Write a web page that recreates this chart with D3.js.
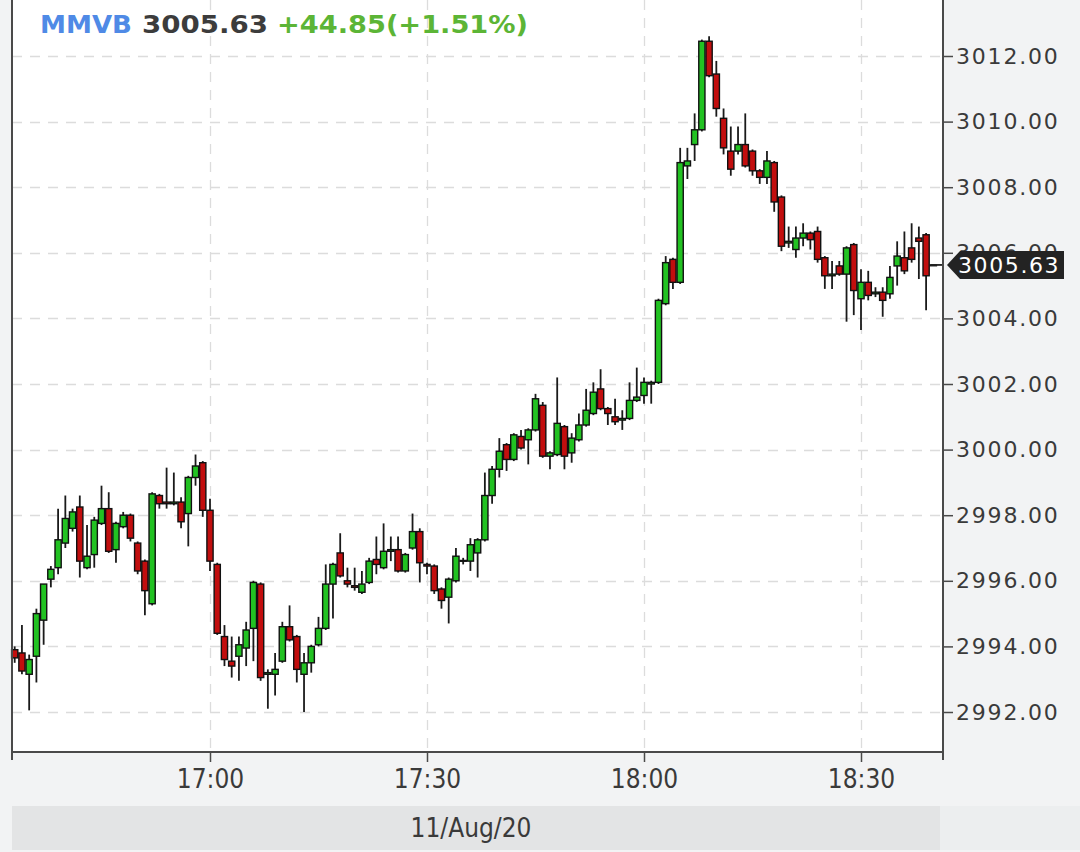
<!DOCTYPE html>
<html><head><meta charset="utf-8">
<script src="https://cdn.jsdelivr.net/npm/d3@7"></script>
<style>body{margin:0;background:#f2f3f4;overflow:hidden}</style>
</head><body><svg id="c" width="1080" height="852"></svg>
<script>
const times = ["16:33","16:34","16:35","16:36","16:37","16:38","16:39","16:40","16:41","16:42","16:43","16:44","16:45","16:46","16:47","16:48","16:49","16:50","16:51","16:52","16:53","16:54","16:55","16:56","16:57","16:58","16:59",
"17:00","17:01","17:02","17:03","17:04","17:05","17:06","17:07","17:08","17:09","17:10","17:11","17:12","17:13","17:14","17:15","17:16","17:17","17:18","17:19","17:20","17:21","17:22","17:23","17:24","17:25","17:26","17:27","17:28","17:29",
"17:30","17:31","17:32","17:33","17:34","17:35","17:36","17:37","17:38","17:39","17:40","17:41","17:42","17:43","17:44","17:45","17:46","17:47","17:48","17:49","17:50","17:51","17:52","17:53","17:54","17:55","17:56","17:57","17:58","17:59",
"18:00","18:01","18:02","18:03","18:04","18:05","18:06","18:07","18:08","18:09","18:10","18:11","18:12","18:13","18:14","18:15","18:16","18:17","18:18","18:19","18:20","18:21","18:22","18:23","18:24","18:25","18:26","18:27","18:28","18:29",
"18:30","18:31","18:32","18:33","18:34","18:35","18:36","18:37","18:38","18:39","18:40"];
const opens = [2993.90,2993.80,2993.15,2993.70,2994.80,2996.05,2996.40,2997.15,2997.60,2998.25,
2996.40,2996.80,2997.75,2998.20,2996.95,2997.65,2998.00,2997.15,2996.60,2995.30,
2998.60,2998.40,2998.35,2998.40,2998.05,2999.15,2999.60,2998.15,2996.50,2994.30,
2993.55,2993.70,2993.95,2994.55,2995.90,2993.15,2993.15,2993.55,2994.60,2994.30,
2993.15,2993.50,2994.05,2994.55,2995.90,2996.85,2996.00,2995.85,2995.65,2995.95,
2996.65,2996.40,2996.90,2996.95,2996.30,2997.00,2997.50,2996.50,2996.45,2995.75,
2995.50,2996.00,2996.60,2996.60,2996.85,2997.25,2998.60,2999.40,3000.15,2999.70,
3000.40,3000.30,3000.60,3001.35,2999.80,2999.85,3000.70,2999.90,3000.30,3000.75,
3001.10,3001.85,3001.25,3001.00,3000.90,3000.95,3001.50,3001.65,3002.00,3002.05,
3004.45,3005.80,3005.10,3008.65,3009.30,3009.75,3012.45,3011.45,3010.10,3009.10,
3009.10,3009.30,3009.10,3008.50,3008.30,3008.75,3007.70,3006.30,3006.10,3006.45,
3006.60,3006.65,3005.85,3005.30,3005.60,3005.35,3006.25,3004.60,3005.10,3004.75,
3004.80,3004.75,3005.60,3005.85,3006.15,3006.45,3006.55,3005.63];
const highs = [2994.00,2994.65,2993.75,2995.15,2995.90,2996.45,2998.20,2998.60,2998.20,2998.60,
2997.70,2997.95,2998.90,2998.70,2997.80,2998.10,2998.05,2997.20,2996.65,2998.70,
2998.65,2999.45,2999.30,2998.55,2999.20,2999.85,2999.65,2998.50,2996.55,2994.65,
2994.30,2994.30,2994.75,2996.00,2995.95,2993.30,2993.80,2994.75,2995.25,2994.35,
2993.80,2994.05,2994.90,2996.50,2996.55,2997.45,2996.40,2996.40,2996.30,2996.70,
2997.35,2997.75,2997.35,2997.35,2996.85,2998.05,2997.60,2996.55,2996.50,2995.80,
2996.10,2997.00,2996.70,2997.30,2997.30,2999.30,2999.50,3000.35,3000.20,3000.50,
3000.60,3000.65,3001.70,3001.45,2999.95,3002.20,3000.75,3000.50,3001.10,3001.85,
3002.05,3002.45,3001.30,3001.55,3001.20,3002.05,3002.50,3002.20,3002.10,3004.60,
3005.90,3005.85,3009.20,3009.20,3010.25,3012.50,3012.60,3011.85,3010.40,3009.85,
3009.85,3010.25,3009.15,3008.55,3009.10,3008.80,3007.75,3006.80,3006.80,3006.90,
3006.65,3006.80,3005.90,3005.75,3005.75,3006.20,3006.30,3005.50,3005.45,3004.95,
3004.95,3005.60,3006.35,3006.65,3006.90,3006.80,3006.60,3005.63];
const lows = [2993.50,2993.15,2992.05,2992.90,2994.05,2995.80,2996.20,2997.00,2997.50,2996.10,
2996.35,2996.40,2997.70,2996.85,2996.55,2997.60,2997.20,2996.20,2994.95,2995.25,
2998.20,2998.20,2998.30,2997.60,2997.05,2998.90,2997.95,2996.30,2994.35,2993.40,
2993.05,2992.95,2993.40,2993.55,2992.95,2992.10,2992.50,2993.50,2994.15,2992.90,
2992.00,2993.20,2994.00,2994.50,2994.85,2996.10,2995.80,2995.70,2995.60,2995.90,
2996.20,2996.35,2996.60,2996.25,2996.25,2996.95,2995.95,2996.20,2995.60,2995.15,
2994.70,2995.95,2996.50,2996.30,2996.10,2997.20,2998.35,2999.15,2999.35,2999.65,
3000.00,2999.55,3000.55,2999.75,2999.40,2999.80,2999.40,2999.60,3000.25,3000.70,
3001.05,3001.20,3000.75,3000.75,3000.60,3000.90,3001.45,3001.40,3001.40,3002.00,
3004.40,3004.90,3005.05,3008.25,3008.80,3009.70,3011.35,3010.15,3009.00,3008.35,
3009.00,3008.60,3008.35,3008.10,3008.10,3007.25,3006.05,3006.15,3005.85,3006.20,
3006.10,3005.70,3004.90,3004.90,3005.30,3003.90,3004.10,3003.65,3004.55,3004.65,
3004.05,3004.60,3005.00,3005.35,3005.70,3005.20,3004.25,3005.63];
const closes = [2993.65,2993.25,2993.60,2995.00,2995.90,2996.35,2997.25,2997.90,2998.10,2996.60,
2996.75,2997.85,2998.20,2996.90,2997.75,2998.00,2997.30,2996.30,2995.70,2998.65,
2998.35,2998.35,2998.40,2997.80,2999.15,2999.50,2998.15,2996.60,2994.40,2993.60,
2993.40,2994.05,2994.50,2995.95,2993.05,2993.20,2993.30,2994.60,2994.20,2993.30,
2993.50,2994.00,2994.55,2995.90,2996.50,2996.15,2995.90,2995.80,2995.90,2996.60,
2996.50,2996.90,2996.95,2996.30,2996.80,2997.50,2996.55,2996.45,2995.70,2995.40,
2996.05,2996.75,2996.62,2997.10,2997.25,2998.60,2999.40,2999.95,2999.70,3000.45,
3000.05,3000.60,3001.55,2999.80,2999.90,3000.80,2999.80,3000.35,3000.75,3001.20,
3001.75,3001.25,3001.10,3000.85,3000.95,3001.50,3001.60,3002.05,3002.05,3004.55,
3005.70,3005.10,3008.75,3008.80,3009.75,3012.45,3011.40,3010.40,3009.20,3008.55,
3009.30,3008.65,3008.50,3008.30,3008.80,3007.55,3006.20,3006.35,3006.45,3006.60,
3006.40,3005.80,3005.30,3005.35,3005.35,3006.15,3004.85,3005.10,3004.70,3004.80,
3004.55,3005.25,3005.90,3005.45,3005.80,3006.35,3005.30,3005.63];
const yTicks = [2992,2994,2996,2998,3000,3002,3004,3006,3008,3010,3012];
const xTickLabels = ["17:00","17:30","18:00","18:30"];
const dateLabel = "11/Aug/20";
const symbol = "MMVB", lastPrice = "3005.63", change = "+44.85(+1.51%)";
const lastValue = 3005.63;

const parse = d3.timeParse("%H:%M");
const svg = d3.select("#c");
const L = 12, R = 943, T = 0, B = 752;
const x = d3.scaleTime().domain([parse("17:00"), parse("18:30")]).range([210, 861]);
const y = d3.scaleLinear().domain([2992, 3012]).range([712, 56]);

svg.append("rect").attr("width",1080).attr("height",852).attr("fill","#f2f3f4");
svg.append("rect").attr("x",L).attr("y",T).attr("width",R-L).attr("height",B-T).attr("fill","#ffffff");
svg.append("rect").attr("x",L).attr("y",806).attr("width",928).attr("height",44).attr("fill","#e3e4e5");
svg.append("rect").attr("x",940).attr("y",806).attr("width",140).attr("height",44).attr("fill","#eceeef");

// grid
const grid = svg.append("g").attr("stroke","#dcdcdc").attr("stroke-width",1.3).attr("stroke-dasharray","10,8");
grid.selectAll("line.h").data(yTicks).join("line")
  .attr("x1",L).attr("x2",R).attr("y1",d=>Math.round(y(d))+0.5).attr("y2",d=>Math.round(y(d))+0.5);
grid.selectAll("line.v").data(xTickLabels).join("line").attr("class","v")
  .attr("y1",T).attr("y2",B).attr("x1",d=>Math.round(x(parse(d)))+0.5).attr("x2",d=>Math.round(x(parse(d)))+0.5);

// candles
const idx = d3.range(times.length);
const cg = svg.append("g");
const bw = 6.2;
cg.selectAll("line.w").data(idx).join("line")
  .attr("x1",i=>x(parse(times[i]))).attr("x2",i=>x(parse(times[i])))
  .attr("y1",i=>y(highs[i])).attr("y2",i=>y(lows[i]))
  .attr("stroke","#1a1a1a").attr("stroke-width",1.8);
cg.selectAll("rect.b").data(idx).join("rect")
  .attr("x",i=>x(parse(times[i]))-bw/2)
  .attr("width",bw)
  .attr("y",i=>y(Math.max(opens[i],closes[i])))
  .attr("height",i=>Math.max(0.8, Math.abs(y(opens[i])-y(closes[i]))))
  .attr("fill",i=>closes[i]>=opens[i] ? "#22c222" : "#c20e0e")
  .attr("stroke","#111").attr("stroke-width",1.4);

// last price line to axis
const lastX = x(parse(times[times.length-1]));
svg.append("line").attr("x1",lastX-3).attr("x2",R).attr("y1",y(lastValue)).attr("y2",y(lastValue))
  .attr("stroke","#222").attr("stroke-width",1.8);

// frame lines
svg.append("line").attr("x1",L).attr("x2",L).attr("y1",T).attr("y2",B+8).attr("stroke","#4a4a4a").attr("stroke-width",2);
svg.append("line").attr("x1",R).attr("x2",R).attr("y1",T).attr("y2",B+8).attr("stroke","#4a4a4a").attr("stroke-width",2);
svg.append("line").attr("x1",L).attr("x2",R).attr("y1",B).attr("y2",B).attr("stroke","#4a4a4a").attr("stroke-width",2);

// y axis
const ya = svg.append("g").attr("transform",`translate(${R},0)`)
  .call(d3.axisRight(y).tickValues(yTicks).tickSize(10).tickPadding(3).tickFormat(d3.format(".2f")));
ya.select(".domain").remove();
ya.selectAll("line").attr("stroke","#4a4a4a").attr("stroke-width",1.5);
ya.selectAll("text").attr("font-family","DejaVu Sans").attr("font-size",22).attr("letter-spacing",1.8).attr("fill","#3a3a3a");

// x axis
const xa = svg.append("g").attr("transform",`translate(0,${B})`)
  .call(d3.axisBottom(x).tickValues(xTickLabels.map(parse)).tickSize(10).tickPadding(8).tickFormat(d3.timeFormat("%H:%M")));
xa.select(".domain").remove();
xa.selectAll("line").attr("stroke","#4a4a4a").attr("stroke-width",1.5);
xa.selectAll("text").attr("font-family","DejaVu Sans Condensed, DejaVu Sans").attr("font-size",26).attr("fill","#3a3a3a");

// date label
svg.append("text").attr("x",471).attr("y",837).attr("text-anchor","middle")
  .attr("font-family","DejaVu Sans Condensed, DejaVu Sans").attr("font-size",26).attr("fill","#3a3a3a").text(dateLabel);

// price tag
const py = y(lastValue);
svg.append("path").attr("d",`M947,${py} L960,${py-14} H1064 V${py+14} H960 Z`).attr("fill","#232323");
svg.append("text").attr("x",958).attr("y",py+8).attr("font-family","DejaVu Sans").attr("font-size",22)
  .attr("letter-spacing",1.6).attr("fill","#ffffff").text(lastPrice);

// header
const hf = "DejaVu Sans";
svg.append("text").attr("x",40).attr("y",33).attr("font-family",hf).attr("font-weight","bold").attr("font-size",25)
  .attr("fill","#4f8ae6").attr("textLength",92).attr("lengthAdjust","spacingAndGlyphs").text(symbol);
svg.append("text").attr("x",142).attr("y",33).attr("font-family",hf).attr("font-weight","bold").attr("font-size",25)
  .attr("fill","#3c3c3c").attr("textLength",126).attr("lengthAdjust","spacingAndGlyphs").text(lastPrice);
svg.append("text").attr("x",277).attr("y",33).attr("font-family",hf).attr("font-weight","bold").attr("font-size",25)
  .attr("fill","#5cb536").attr("textLength",251).attr("lengthAdjust","spacingAndGlyphs").text(change);
</script></body></html>
